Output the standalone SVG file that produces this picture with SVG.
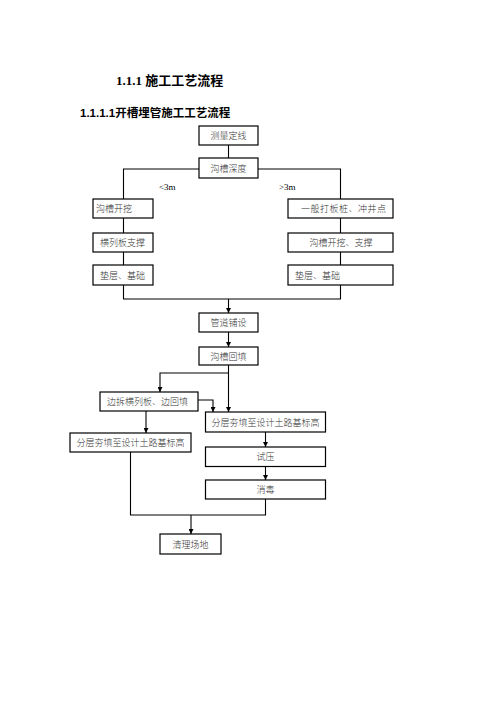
<svg xmlns="http://www.w3.org/2000/svg" width="496" height="702" viewBox="0 0 496 702">
<style>
  .box { fill: #fff; stroke: #000; stroke-width: 1.2; }
  .t { font-family: "Liberation Serif", "Noto Sans CJK SC", serif; font-size: 9px; font-weight: 300; fill: #333; }
  .c { text-anchor: middle; }
  .ln { fill: none; stroke: #000; stroke-width: 1.1; }
  .h1 { font-family: "Liberation Serif", "Noto Sans CJK SC", serif; font-size: 13px; font-weight: bold; fill: #000; }
  .h2 { font-family: "Liberation Sans", "Noto Sans CJK SC", sans-serif; font-size: 11.5px; font-weight: bold; fill: #000; }
</style>
<defs>
  <marker id="ah" viewBox="0 0 6 6" refX="6" refY="3" markerWidth="5" markerHeight="5" orient="auto" markerUnits="userSpaceOnUse">
    <path d="M0,0 L6,3 L0,6 Z" fill="#000"/>
  </marker>
</defs>
<rect width="496" height="702" fill="#fff"/>
<text class="h1" x="116" y="85">1.1.1 施工工艺流程</text>
<text class="h2" x="80" y="117">1.1.1.1开槽埋管施工工艺流程</text>

<g id="connectors">
  <path class="ln" d="M228.5,145 V158"/>
  <path class="ln" d="M199,169 H123.5 V199"/>
  <path class="ln" d="M258,169 H340.5 V199"/>
  <path class="ln" d="M123.5,218 V233 M123.5,252 V265"/>
  <path class="ln" d="M340.5,218 V233 M340.5,252 V265"/>
  <path class="ln" d="M123.5,285 V299 H340.5 V285"/>
  <path class="ln" d="M228.5,299 V313" marker-end="url(#ah)"/>
  <path class="ln" d="M228.5,332 V347" marker-end="url(#ah)"/>
  <path class="ln" d="M228.5,365 V412" marker-end="url(#ah)"/>
  <path class="ln" d="M228.5,373 H160 V392" marker-end="url(#ah)"/>
  <path class="ln" d="M198,400 H213 V412" marker-end="url(#ah)"/>
  <path class="ln" d="M146,411 V433" marker-end="url(#ah)"/>
  <path class="ln" d="M265.5,432 V447" marker-end="url(#ah)"/>
  <path class="ln" d="M265.5,466.5 V480" marker-end="url(#ah)"/>
  <path class="ln" d="M130.5,452 V515 H265.5 V499"/>
  <path class="ln" d="M191,515 V534" marker-end="url(#ah)"/>
  <text class="t" x="159" y="190" style="fill:#000;font-weight:normal">&lt;3m</text>
  <text class="t" x="279" y="190" style="fill:#000;font-weight:normal">&gt;3m</text>
</g>

<g id="n1"><rect class="box" x="199" y="126" width="59" height="19"/><text class="t c" x="228.5" y="139">测量定线</text></g>
<g id="n2"><rect class="box" x="199" y="158" width="59" height="20"/><text class="t c" x="228.5" y="171.5">沟槽深度</text></g>
<g id="n3"><rect class="box" x="93" y="199" width="60" height="19"/><text class="t" x="96" y="212">沟槽开挖</text></g>
<g id="n4"><rect class="box" x="288" y="199" width="105" height="19"/><text class="t" x="301" y="212" style="letter-spacing:0.5px">一般打板桩、冲井点</text></g>
<g id="n5"><rect class="box" x="93" y="233" width="60" height="19"/><text class="t" x="100" y="246">横列板支撑</text></g>
<g id="n6"><rect class="box" x="288" y="233" width="105" height="19"/><text class="t c" x="341" y="246">沟槽开挖、支撑</text></g>
<g id="n7"><rect class="box" x="93" y="265" width="60" height="20"/><text class="t" x="100" y="278.5">垫层、基础</text></g>
<g id="n8"><rect class="box" x="288" y="265" width="105" height="20"/><text class="t" x="295" y="278.5">垫层、基础</text></g>
<g id="n9"><rect class="box" x="199" y="313" width="59" height="19"/><text class="t c" x="228.5" y="326">管道铺设</text></g>
<g id="n10"><rect class="box" x="199" y="347" width="59" height="18"/><text class="t c" x="228.5" y="359.5">沟槽回填</text></g>
<g id="n11"><rect class="box" x="100" y="392" width="98" height="19"/><text class="t" x="107" y="405">边拆横列板、边回填</text></g>
<g id="n12"><rect class="box" x="205.5" y="412" width="120" height="20"/><text class="t c" x="265.5" y="425.5">分层夯填至设计土路基标高</text></g>
<g id="n13"><rect class="box" x="70" y="433" width="121" height="19"/><text class="t c" x="130.5" y="446">分层夯填至设计土路基标高</text></g>
<g id="n14"><rect class="box" x="205.5" y="447" width="120" height="19.5"/><text class="t c" x="265.5" y="460">试压</text></g>
<g id="n15"><rect class="box" x="205.5" y="480" width="120" height="19"/><text class="t c" x="265.5" y="493">消毒</text></g>
<g id="n16"><rect class="box" x="160" y="534" width="61" height="20"/><text class="t c" x="190.5" y="547.5">清理场地</text></g>
</svg>
